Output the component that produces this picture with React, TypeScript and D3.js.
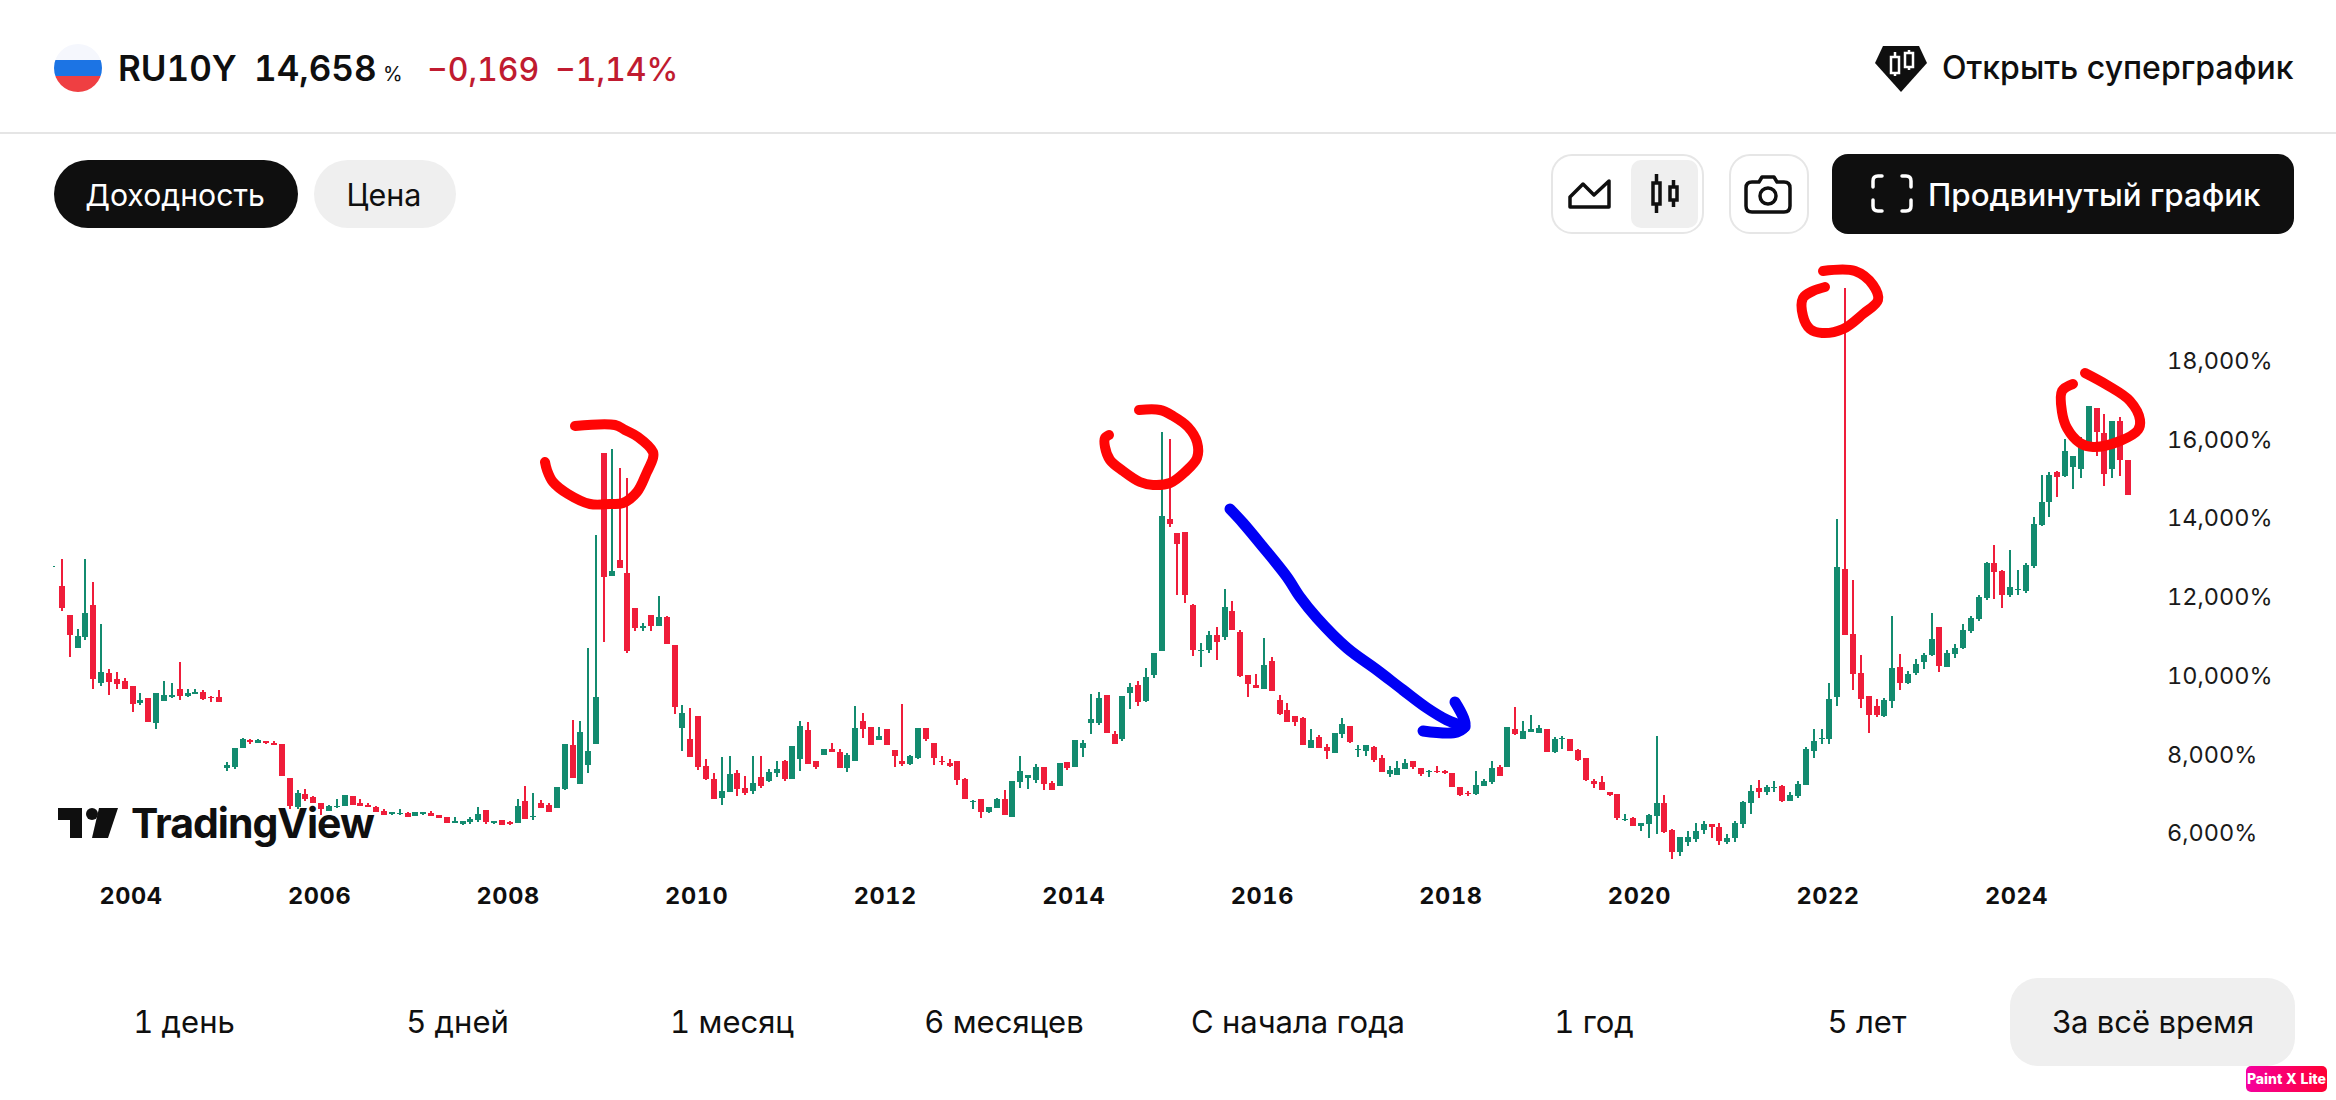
import { useEffect, useRef } from "react";
import * as d3 from "d3";

const firstMonth = Date.UTC(2003, 2, 1);
const lastMonth = Date.UTC(2025, 3, 1); // range end is exclusive, last candle is March 2025

const yearTicks = [2004, 2006, 2008, 2010, 2012, 2014, 2016, 2018, 2020, 2022, 2024];
const yieldTicks = [6, 8, 10, 12, 14, 16, 18];
const periods = ["1 день", "5 дней", "1 месяц", "6 месяцев", "С начала года", "1 год", "5 лет", "За всё время"];

// monthly candles, yield in %
const open = [
  12.83, 12.34, 11.6, 10.76, 11.04, 11.85, 9.87, 10.13, 9.97, 9.92,
  9.8, 9.36, 9.49, 8.86, 9.41, 9.52, 9.72, 9.54, 9.59, 9.64,
  9.52, 9.52, 7.71, 7.74, 8.22, 8.42, 8.35, 8.4, 8.35, 8.32,
  7.46, 6.72, 7.05, 6.97, 6.82, 6.62, 6.72, 6.75, 7.0, 6.82,
  6.77, 6.72, 6.62, 6.54, 6.54, 6.57, 6.49, 6.54, 6.57, 6.52,
  6.47, 6.31, 6.29, 6.34, 6.39, 6.64, 6.31, 6.39, 6.34, 6.31,
  6.87, 6.47, 6.82, 6.77, 6.69, 7.18, 8.3, 7.3, 7.79, 8.32,
  15.71, 12.59, 13.0, 12.67, 11.78, 11.27, 11.6, 11.32, 11.55, 10.84,
  8.73, 8.45, 9.03, 7.76, 7.43, 6.95, 7.1, 7.58, 7.2, 7.13,
  7.48, 7.38, 7.58, 7.89, 7.43, 7.94, 8.68, 7.89, 8.04, 8.19,
  8.12, 7.71, 7.89, 8.91, 8.75, 8.42, 8.7, 8.17, 7.89, 7.81,
  7.96, 8.73, 8.35, 7.89, 7.84, 7.89, 7.43, 6.85, 6.92, 6.59,
  6.69, 6.92, 6.47, 7.36, 7.46, 7.41, 7.74, 7.33, 7.25, 7.86,
  7.74, 8.22, 8.85, 8.85, 9.57, 8.57, 8.45, 9.62, 9.82, 9.41,
  10.07, 10.68, 14.04, 13.68, 13.71, 11.85, 10.68, 10.71, 11.09, 11.04,
  11.7, 11.17, 10.07, 9.82, 9.72, 10.43, 9.44, 9.18, 9.03, 8.98,
  8.22, 8.5, 8.24, 8.09, 8.57, 8.78, 8.17, 8.14, 8.24, 7.96,
  7.56, 7.53, 7.69, 7.89, 7.71, 7.61, 7.63, 7.63, 7.58, 7.23,
  7.08, 7.05, 7.25, 7.36, 7.74, 7.74, 8.71, 8.44, 8.62, 8.6,
  8.71, 8.11, 8.44, 8.44, 8.17, 7.97, 7.38, 7.36, 7.1, 7.05,
  6.39, 6.44, 6.24, 6.28, 6.49, 6.82, 6.13, 5.58, 5.83, 5.9,
  6.13, 6.28, 6.21, 5.83, 5.93, 6.28, 6.82, 7.2, 7.1, 7.2,
  7.25, 6.87, 7.0, 7.28, 8.14, 8.44, 8.44, 9.52, 12.78, 11.12,
  10.13, 9.54, 9.28, 9.03, 9.41, 10.27, 9.86, 10.13, 10.4, 10.58,
  11.3, 10.27, 10.6, 10.76, 11.19, 11.5, 12.02, 12.92, 12.72, 12.11,
  12.23, 12.21, 12.84, 13.89, 14.47, 15.23, 15.13, 15.36, 15.31, 15.92,
  16.87, 16.23, 15.31, 16.52, 15.53,
];
const high = [
  12.85, 13.02, 11.6, 11.24, 13.02, 12.44, 11.37, 10.23, 10.15, 10.0,
  9.8, 9.62, 9.49, 9.62, 9.92, 9.87, 10.41, 9.72, 9.72, 9.69,
  9.54, 9.69, 7.86, 8.22, 8.47, 8.45, 8.45, 8.4, 8.4, 8.32,
  7.46, 7.15, 7.18, 7.0, 6.82, 6.77, 6.92, 7.03, 7.0, 6.92,
  6.82, 6.75, 6.67, 6.59, 6.67, 6.59, 6.59, 6.59, 6.62, 6.52,
  6.47, 6.47, 6.37, 6.47, 6.72, 6.64, 6.37, 6.39, 6.37, 6.92,
  7.25, 7.08, 6.9, 6.82, 7.23, 8.32, 8.93, 8.91, 10.76, 13.63,
  15.71, 15.82, 15.33, 15.08, 11.78, 11.39, 11.6, 12.08, 11.57, 10.84,
  9.31, 9.24, 9.03, 7.94, 7.58, 7.99, 8.02, 7.66, 7.51, 8.02,
  8.02, 7.69, 7.89, 7.91, 8.27, 8.91, 8.88, 7.89, 8.19, 8.35,
  8.19, 8.09, 9.29, 9.11, 8.75, 8.75, 8.7, 8.17, 9.34, 8.04,
  8.73, 8.73, 8.35, 8.02, 7.94, 7.89, 7.46, 6.9, 6.92, 6.72,
  6.95, 7.15, 7.38, 8.02, 7.53, 7.81, 7.74, 7.38, 7.84, 7.86,
  8.42, 8.42, 9.59, 9.64, 9.57, 8.65, 9.54, 9.87, 9.92, 10.25,
  10.63, 16.25, 16.07, 13.68, 13.71, 11.88, 10.89, 11.19, 11.29, 12.26,
  11.95, 11.22, 10.07, 10.1, 11.01, 10.53, 9.57, 9.36, 9.03, 9.01,
  8.7, 8.55, 8.32, 8.6, 8.98, 8.78, 8.3, 8.3, 8.27, 8.04,
  7.76, 7.89, 7.94, 7.89, 7.71, 7.66, 7.76, 7.66, 7.58, 7.23,
  7.13, 7.63, 7.43, 7.89, 7.79, 8.75, 9.26, 8.91, 9.05, 8.8,
  8.71, 8.49, 8.53, 8.44, 8.19, 7.97, 7.43, 7.5, 7.1, 7.05,
  6.53, 6.46, 6.31, 6.53, 8.53, 7.02, 6.16, 5.95, 6.1, 6.31,
  6.37, 6.28, 6.31, 6.03, 6.37, 6.87, 7.27, 7.4, 7.27, 7.38,
  7.27, 7.09, 7.38, 8.24, 8.71, 8.71, 9.86, 14.03, 19.9, 12.5,
  10.57, 9.54, 9.46, 9.48, 11.57, 10.6, 10.17, 10.47, 10.63, 11.64,
  11.3, 10.71, 10.87, 11.37, 11.57, 12.11, 12.94, 13.37, 12.74, 13.25,
  12.74, 12.92, 14.08, 15.15, 15.22, 15.27, 16.07, 15.64, 16.13, 16.91,
  16.87, 16.7, 16.52, 16.62, 15.53,
];
const low = [
  12.83, 11.7, 10.53, 10.76, 10.96, 9.72, 9.8, 9.57, 9.72, 9.72,
  9.13, 9.31, 8.88, 8.7, 9.41, 9.49, 9.44, 9.52, 9.59, 9.44,
  9.39, 9.39, 7.64, 7.69, 8.22, 8.32, 8.35, 8.32, 8.3, 7.51,
  6.67, 6.67, 6.87, 6.82, 6.52, 6.62, 6.7, 6.75, 6.77, 6.75,
  6.72, 6.59, 6.52, 6.52, 6.52, 6.47, 6.49, 6.52, 6.49, 6.44,
  6.31, 6.31, 6.26, 6.29, 6.34, 6.29, 6.29, 6.26, 6.26, 6.31,
  6.42, 6.39, 6.69, 6.59, 6.69, 7.15, 7.46, 7.3, 7.58, 8.32,
  10.91, 12.59, 12.79, 10.63, 11.19, 11.19, 11.19, 11.32, 10.86, 9.08,
  8.14, 7.99, 7.66, 7.41, 6.92, 6.77, 7.1, 7.0, 7.03, 7.05,
  7.2, 7.36, 7.48, 7.38, 7.43, 7.64, 7.81, 7.69, 8.04, 8.12,
  7.71, 7.61, 7.89, 8.47, 8.3, 8.42, 8.3, 7.74, 7.76, 7.79,
  7.94, 8.4, 7.79, 7.79, 7.74, 7.28, 6.92, 6.67, 6.44, 6.57,
  6.69, 6.52, 6.47, 7.2, 7.18, 7.33, 7.15, 7.15, 7.25, 7.66,
  7.74, 7.99, 8.57, 8.8, 8.6, 8.32, 8.4, 9.21, 9.29, 9.39,
  9.99, 10.68, 13.84, 12.1, 11.9, 10.56, 10.28, 10.63, 10.46, 10.96,
  11.22, 10.02, 9.52, 9.74, 9.72, 9.67, 9.06, 8.88, 8.78, 8.3,
  8.22, 8.22, 7.94, 8.09, 8.47, 8.35, 7.99, 8.02, 7.86, 7.61,
  7.48, 7.53, 7.69, 7.69, 7.51, 7.48, 7.58, 7.56, 7.23, 7.0,
  7.0, 7.02, 7.25, 7.3, 7.51, 7.74, 8.55, 8.44, 8.62, 8.6,
  8.11, 8.09, 8.19, 8.14, 7.88, 7.38, 7.2, 7.16, 7.0, 6.39,
  6.36, 6.24, 6.11, 5.94, 6.04, 6.06, 5.4, 5.47, 5.72, 5.83,
  6.03, 5.93, 5.76, 5.78, 5.83, 6.19, 6.53, 6.96, 7.03, 7.1,
  6.84, 6.87, 6.96, 7.28, 7.97, 8.32, 8.32, 9.28, 11.09, 9.7,
  9.23, 8.6, 9.0, 9.0, 9.23, 9.7, 9.84, 10.07, 10.22, 10.56,
  10.15, 10.27, 10.51, 10.73, 11.14, 11.44, 11.98, 12.0, 11.77, 12.06,
  12.11, 12.16, 12.79, 13.85, 14.08, 14.59, 15.1, 14.79, 15.08, 15.92,
  15.64, 14.88, 15.08, 15.13, 14.658,
];
const close = [
  12.85, 11.78, 11.09, 11.07, 11.65, 9.97, 10.15, 9.9, 9.85, 9.72,
  9.34, 9.44, 8.88, 9.62, 9.57, 9.57, 9.54, 9.62, 9.64, 9.46,
  9.49, 9.39, 7.79, 8.22, 8.45, 8.37, 8.42, 8.35, 8.3, 7.51,
  6.75, 7.08, 6.92, 6.82, 6.67, 6.75, 6.75, 7.03, 6.77, 6.75,
  6.72, 6.59, 6.52, 6.59, 6.57, 6.47, 6.59, 6.59, 6.49, 6.44,
  6.31, 6.37, 6.37, 6.42, 6.54, 6.34, 6.37, 6.26, 6.29, 6.75,
  6.42, 6.49, 6.69, 6.59, 7.23, 8.32, 7.46, 8.63, 8.14, 9.51,
  12.56, 12.72, 12.79, 10.68, 11.27, 11.32, 11.32, 11.55, 10.86, 9.26,
  9.11, 7.99, 7.74, 7.43, 6.92, 7.13, 7.56, 7.18, 7.08, 7.33,
  7.25, 7.61, 7.69, 7.43, 8.27, 8.78, 7.81, 7.74, 8.19, 8.12,
  7.71, 8.04, 8.73, 8.7, 8.3, 8.52, 8.3, 8.02, 7.81, 8.02,
  8.73, 8.45, 7.96, 7.86, 7.76, 7.41, 6.92, 6.87, 6.59, 6.72,
  6.92, 6.52, 7.38, 7.63, 7.53, 7.74, 7.3, 7.15, 7.84, 7.71,
  8.42, 8.35, 8.96, 9.49, 8.6, 8.32, 9.54, 9.77, 9.39, 10.02,
  10.63, 14.11, 13.91, 13.4, 12.1, 10.71, 10.71, 11.09, 10.91, 11.8,
  11.22, 10.05, 9.85, 9.74, 10.33, 9.67, 9.08, 8.88, 8.88, 8.3,
  8.42, 8.22, 8.14, 8.6, 8.83, 8.37, 8.19, 8.3, 7.91, 7.61,
  7.66, 7.71, 7.84, 7.74, 7.56, 7.63, 7.61, 7.58, 7.23, 7.02,
  7.05, 7.28, 7.38, 7.71, 7.51, 8.75, 8.58, 8.65, 8.71, 8.73,
  8.11, 8.44, 8.46, 8.14, 7.91, 7.4, 7.3, 7.16, 7.03, 6.44,
  6.41, 6.24, 6.31, 6.51, 6.82, 6.08, 5.58, 5.95, 5.95, 6.1,
  6.28, 6.21, 5.85, 5.93, 6.31, 6.84, 7.12, 7.1, 7.22, 7.23,
  6.87, 7.02, 7.3, 8.19, 8.39, 8.47, 9.46, 12.81, 11.09, 10.11,
  9.47, 9.05, 9.05, 9.44, 10.25, 9.86, 10.1, 10.35, 10.58, 10.99,
  10.3, 10.63, 10.76, 11.21, 11.52, 12.06, 12.92, 12.69, 12.11, 12.31,
  12.26, 12.87, 13.91, 14.47, 15.15, 15.11, 15.76, 15.64, 15.97, 16.91,
  16.26, 15.18, 16.52, 15.53, 14.658,
];

// marker scribbles somebody drew over the screenshot
const scribbles: { color: string; width: number; points: [number, number][] }[] = [
  { color: "#FF0505", width: 10, points: [[575, 426], [615, 425], [625, 430], [638, 437], [653, 452], [653, 458], [647, 472], [637, 492], [623, 503], [610, 504], [590, 504], [568, 494], [553, 482], [547, 470], [545, 462]] },
  { color: "#FF0505", width: 10, points: [[1139, 410], [1160, 410], [1173, 416], [1188, 427], [1197, 442], [1197, 458], [1185, 472], [1170, 483], [1153, 485], [1140, 482], [1123, 471], [1110, 460], [1105, 447], [1105, 438], [1109, 435]] },
  { color: "#FF0505", width: 10, points: [[1823, 271], [1855, 271], [1873, 285], [1878, 300], [1863, 314], [1843, 329], [1822, 333], [1810, 329], [1803, 316], [1803, 298], [1813, 291], [1825, 287]] },
  { color: "#FF0505", width: 10, points: [[2085, 373], [2107, 385], [2130, 401], [2140, 420], [2138, 430], [2120, 441], [2093, 447], [2080, 443], [2067, 428], [2062, 412], [2062, 391], [2073, 384]] },
  { color: "#0000F5", width: 11, points: [[1230, 509], [1243, 523], [1263, 547], [1287, 577], [1300, 597], [1317, 618], [1347, 648], [1377, 670], [1403, 690], [1427, 708], [1447, 720], [1465, 727]] },
  { color: "#0000F5", width: 11, points: [[1455, 702], [1465, 725], [1457, 732], [1423, 731]] },
];

const GREEN = "#138B6F";
const RED = "#EF1D3A";
const INK = "#0F0F0F";
const FONT = "Inter, 'Noto Sans', sans-serif";

export default function App() {
  const svgRef = useRef<SVGSVGElement | null>(null);

  useEffect(() => {
    if (!svgRef.current) return;
    const svg = d3.select(svgRef.current);
    const chart = svg.select<SVGGElement>("g.chart");
    chart.selectAll("*").remove();

    const months = d3.utcMonth.range(new Date(firstMonth), new Date(lastMonth));
    const candles = months.map((date, i) => ({
      date,
      o: open[i],
      h: high[i],
      l: low[i],
      c: close[i],
    }));

    const x = d3.scalePoint<Date>().domain(months).range([54, 2128]);
    const y = d3.scaleLinear().domain([6, 18]).range([835.3, 363.1]);

    // y axis
    const yAxis = d3
      .axisRight(y)
      .tickValues(yieldTicks)
      .tickSize(0)
      .tickPadding(0)
      .tickFormat((d) => d3.format(".3f")(d as number).replace(".", ",") + "%");
    const yG = chart.append("g").attr("transform", "translate(2167,0)").call(yAxis);
    yG.select(".domain").remove();
    yG.selectAll("text")
      .attr("dy", "0.23em")
      .attr("font-family", FONT)
      .attr("font-size", 23.5)
      .attr("fill", "#1A1A1A");

    // x axis
    const xAxis = d3
      .axisBottom(x)
      .tickValues(yearTicks.map((yr) => months.find((m) => m.getUTCFullYear() === yr)!))
      .tickSize(0)
      .tickPadding(0)
      .tickFormat((d) => d3.utcFormat("%Y")(d as Date));
    const xG = chart.append("g").attr("transform", "translate(-2,904)").call(xAxis);
    xG.select(".domain").remove();
    xG.selectAll("text")
      .attr("dy", 0)
      .attr("font-family", FONT)
      .attr("font-size", 23.5)
      .attr("font-weight", 700)
      .attr("letter-spacing", "0.6px")
      .attr("fill", INK);

    // wicks then bodies
    const colorOf = (d: { o: number; c: number }) => (d.c >= d.o ? GREEN : RED);
    const marks = chart.append("g").attr("shape-rendering", "crispEdges");
    marks
      .selectAll("rect.wick")
      .data(candles)
      .join("rect")
      .attr("class", "wick")
      .attr("x", (d) => Math.round(x(d.date)!) - 1)
      .attr("width", 2)
      .attr("y", (d) => y(d.h))
      .attr("height", (d) => y(d.l) - y(d.h))
      .attr("fill", colorOf);
    marks
      .selectAll("rect.body")
      .data(candles.slice(1))
      .join("rect")
      .attr("class", "body")
      .attr("x", (d) => Math.round(x(d.date)!) - 3)
      .attr("width", 6)
      .attr("y", (d) => y(Math.max(d.o, d.c)))
      .attr("height", (d) => Math.max(1, Math.abs(y(d.o) - y(d.c))))
      .attr("fill", colorOf);

    // scribbles on top
    const pen = d3.line<[number, number]>().curve(d3.curveCatmullRom.alpha(0.5));
    chart
      .append("g")
      .selectAll("path")
      .data(scribbles)
      .join("path")
      .attr("d", (d) => pen(d.points))
      .attr("fill", "none")
      .attr("stroke", (d) => d.color)
      .attr("stroke-width", (d) => d.width)
      .attr("stroke-linecap", "round")
      .attr("stroke-linejoin", "round");
  }, []);

  const periodX = [184, 457.5, 732, 1004, 1298, 1594, 1867, 2153];

  return (
    <svg
      ref={svgRef}
      width={2336}
      height={1100}
      viewBox="0 0 2336 1100"
      style={{ position: "fixed", left: 0, top: 0, background: "#fff", fontFeatureSettings: "'tnum'" }}
      fontFamily={FONT}
    >
      <defs>
        <clipPath id="flag">
          <circle cx={78} cy={68} r={24} />
        </clipPath>
        <linearGradient id="badge" x1="0" x2="1" y1="0" y2="0">
          <stop offset="0" stopColor="#F500A0" />
          <stop offset="1" stopColor="#FF0033" />
        </linearGradient>
      </defs>

      {/* header */}
      <g clipPath="url(#flag)">
        <rect x={54} y={44} width={48} height={16} fill="#F5F7FD" />
        <rect x={54} y={60} width={48} height={16} fill="#1C74E4" />
        <rect x={54} y={76} width={48} height={16} fill="#EF3F42" />
      </g>
      <text x={118} y={81} fontSize={35} fontWeight={600} fill={INK}>RU10Y</text>
      <text x={254} y={81} fontSize={35} fontWeight={600} fill={INK}>14,658</text>
      <text x={383} y={81} fontSize={20} fill={INK}>%</text>
      <text x={427} y={81} fontSize={32} fontWeight={500} fill="#C01B30">−0,169</text>
      <text x={555} y={81} fontSize={32} fontWeight={500} fill="#C01B30">−1,14%</text>

      <path d="M1883 46H1919L1927 63L1901 92L1875 63Z" fill={INK} />
      <g fill={INK} stroke="#fff" strokeWidth={2.5}>
        <path d="M1895 52V76M1909 50V70" />
        <rect x={1891} y={57} width={8} height={16} />
        <rect x={1905} y={53} width={8} height={14} />
      </g>
      <text x={1942} y={79} fontSize={32} fontWeight={500} fill={INK}>Открыть суперграфик</text>
      <rect x={0} y={132} width={2336} height={2} fill="#E5E5E5" />

      {/* toolbar */}
      <rect x={54} y={160} width={244} height={68} rx={34} fill={INK} />
      <text x={175} y={206} fontSize={30.2} textAnchor="middle" fill="#fff">Доходность</text>
      <rect x={314} y={160} width={142} height={68} rx={34} fill="#EFEFEF" />
      <text x={384} y={206} fontSize={30.5} textAnchor="middle" fill={INK}>Цена</text>

      <rect x={1552} y={155} width={151} height={78} rx={20} fill="#fff" stroke="#E6E6E6" strokeWidth={2} />
      <rect x={1631} y={160} width={67} height={68} rx={10} fill="#EFEFEF" />
      <path d="M1570 197L1583 184L1594 195L1609 181V207H1570Z" fill="none" stroke={INK} strokeWidth={3.5} strokeLinejoin="round" />
      <g fill="none" stroke={INK} strokeWidth={3.5}>
        <path d="M1656.5 174V213M1673.5 180V207" />
        <rect x={1653} y={183} width={7} height={21} fill="#EFEFEF" />
        <rect x={1670} y={187} width={7} height={13} fill="#EFEFEF" />
      </g>
      <rect x={1730} y={155} width={78} height={78} rx={20} fill="#fff" stroke="#E6E6E6" strokeWidth={2} />
      <g fill="none" stroke={INK} strokeWidth={3.5} strokeLinejoin="round">
        <path d="M1759 182L1762 177H1774L1777 182H1784Q1790 182 1790 188V206Q1790 212 1784 212H1752Q1746 212 1746 206V188Q1746 182 1752 182Z" />
        <circle cx={1768} cy={196} r={8} />
      </g>
      <rect x={1832} y={154} width={462} height={80} rx={16} fill={INK} />
      <path
        d="M1882 176H1878Q1873 176 1873 181V187M1902 176H1906Q1911 176 1911 181V187M1882 211H1878Q1873 211 1873 206V200M1902 211H1906Q1911 211 1911 206V200"
        fill="none"
        stroke="#fff"
        strokeWidth={3.5}
        strokeLinecap="round"
      />
      <text x={1928} y={206} fontSize={31.3} fontWeight={500} fill="#fff">Продвинутый график</text>

      {/* TradingView mark */}
      <g fill={INK}>
        <path d="M58 808H82V838H70V820H58Z" />
        <circle cx={92} cy={814} r={6} />
        <path d="M99 808H118L108 838H92Z" />
      </g>
      <text x={131} y={838} fontSize={41} fontWeight={700} fill={INK} letterSpacing="-1">TradingView</text>

      <g className="chart" />

      {/* period tabs */}
      <rect x={2010} y={978} width={285} height={88} rx={28} fill="#EFEFEF" />
      {periods.map((p, i) => (
        <text key={p} x={periodX[i]} y={1033} fontSize={31} textAnchor="middle" fill={INK}>{p}</text>
      ))}

      <rect x={2246} y={1066} width={81} height={26} rx={5} fill="url(#badge)" />
      <text x={2286.5} y={1084} fontSize={14} fontWeight={800} textAnchor="middle" fill="#fff">Paint X Lite</text>
    </svg>
  );
}
